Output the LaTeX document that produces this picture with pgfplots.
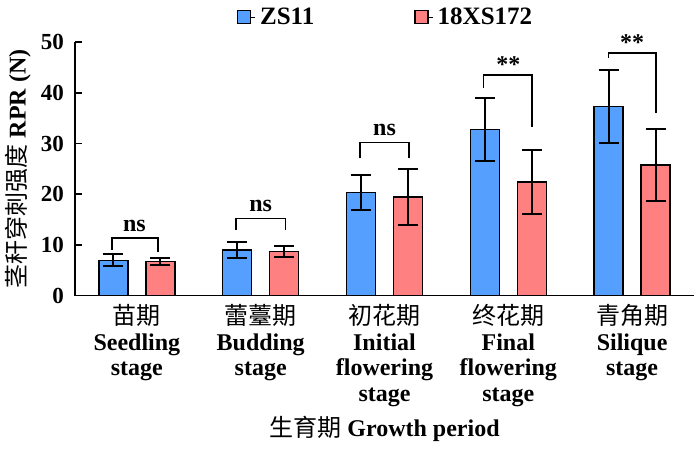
\documentclass[border=0pt]{standalone}
\usepackage{pgfplots}
\pgfplotsset{compat=1.18}
\usepackage{fontspec}
\setmainfont{Liberation Serif}[BoldFont={Liberation Serif Bold}]
\newfontfamily\cjk{Noto Sans CJK SC}
\definecolor{cblue}{HTML}{559FFF}
\definecolor{cred}{HTML}{FF8080}
\newcommand{\zh}[1]{{\cjk\mdseries #1}}
\begin{document}
\begin{tikzpicture}
\useasboundingbox (-37.5pt,-77.25pt) rectangle (312.5pt,147.75pt);
\begin{axis}[
  at={(0,0)}, anchor=south west,
  width=309.5pt, height=126.6pt, scale only axis,
  xmin=-0.5, xmax=4.5, ymin=0, ymax=50,
  axis lines*=left,
  axis line style={line width=0.9pt, black},
  ybar, bar width=14.5pt,
  xtick=\empty,
  minor xtick={0.5,1.5,2.5,3.5},
  minor tick length=2.5pt,
  extra x ticks={0,1,2,3,4},
  extra x tick labels={
    \zh{苗期}\\Seedling\\stage,
    \zh{蕾薹期}\\Budding\\stage,
    \zh{初花期}\\Initial\\flowering\\stage,
    \zh{终花期}\\Final\\flowering\\stage,
    \zh{青角期}\\Silique\\stage},
  extra x tick style={major tick length=0pt,
    tick label style={align=center, anchor=north, yshift=-1pt,
      font=\bfseries\fontsize{12}{12.75}\selectfont}},
  ytick={0,10,20,30,40,50},
  major tick length=3.5pt,
  tick style={line width=0.9pt, black},
  yticklabel style={font=\bfseries\fontsize{11.5}{12}\selectfont, xshift=-2pt},
  /pgf/number format/assume math mode=true,
  ylabel={\zh{茎秆穿刺强度} RPR (N)},
  ylabel style={at={([xshift=-28.5pt]axis description cs:0,0.5)}, anchor=center,
    font=\bfseries\fontsize{12}{12}\selectfont},
  xlabel={\zh{生育期} Growth period},
  xlabel style={at={([yshift=-70.25pt]axis description cs:0.5,0)}, anchor=base,
    font=\bfseries\fontsize{12}{12}\selectfont},
  legend style={at={([yshift=12.5pt,xshift=1pt]axis description cs:0.5,1)}, anchor=center,
    draw=none, fill=none, legend columns=2,
    font=\bfseries\fontsize{12.5}{12.5}\selectfont,
    /tikz/every even column/.append style={column sep=48pt}},
  legend image code/.code={\draw[#1, line width=0.6pt] (0pt,-3.25pt) rectangle (6.5pt,3.25pt);
    \path (6.5pt,0pt) -- (9pt,0pt);},
  clip=false,
]
\addplot[fill=cblue, draw=black, line width=0.75pt, bar shift=-11.75pt,
  error bars/.cd, y dir=both, y explicit,
  error bar style={line width=1pt, black},
  error mark options={rotate=90, mark size=5pt, line width=1pt, black}]
  coordinates {(0,6.95) +- (0,1.2) (1,9.0) +- (0,1.5) (2,20.3) +- (0,3.5) (3,32.8) +- (0,6.2) (4,37.3) +- (0,7.2)};
\addplot[fill=cred, draw=black, line width=0.75pt, bar shift=11.75pt,
  error bars/.cd, y dir=both, y explicit,
  error bar style={line width=1pt, black},
  error mark options={rotate=90, mark size=5pt, line width=1pt, black}]
  coordinates {(0,6.7) +- (0,0.75) (1,8.7) +- (0,1.0) (2,19.5) +- (0,5.5) (3,22.4) +- (0,6.4) (4,25.8) +- (0,7.1)};
\legend{ZS11,18XS172}
% significance brackets
\draw[line width=0.9pt] (axis cs:-0.2,9.0) -- (axis cs:-0.2,11.3) -- (axis cs:0.17,11.3) -- (axis cs:0.17,8.6);
\node[anchor=base, font=\bfseries\fontsize{12}{12}\selectfont] at ([yshift=3.3pt]axis cs:-0.02,11.3) {ns};
\draw[line width=0.9pt] (axis cs:0.8,12.9) -- (axis cs:0.8,15.2) -- (axis cs:1.2,15.2) -- (axis cs:1.2,12.9);
\node[anchor=base, font=\bfseries\fontsize{12}{12}\selectfont] at ([yshift=3.3pt]axis cs:1.0,15.2) {ns};
\draw[line width=0.9pt] (axis cs:1.8,27.1) -- (axis cs:1.8,30.2) -- (axis cs:2.2,30.2) -- (axis cs:2.2,27.1);
\node[anchor=base, font=\bfseries\fontsize{12}{12}\selectfont] at ([yshift=3.3pt]axis cs:2.0,30.2) {ns};
\draw[line width=0.9pt] (axis cs:2.8,41.0) -- (axis cs:2.8,43.6) -- (axis cs:3.19,43.6) -- (axis cs:3.19,33.2);
\node[anchor=base, font=\bfseries\fontsize{12}{12}\selectfont] at ([yshift=1pt]axis cs:3.0,43.6) {**};
\draw[line width=0.9pt] (axis cs:3.81,46.9) -- (axis cs:3.81,47.9) -- (axis cs:4.19,47.9) -- (axis cs:4.19,36.1);
\node[anchor=base, font=\bfseries\fontsize{12}{12}\selectfont] at ([yshift=1pt]axis cs:4.0,47.9) {**};
\end{axis}
\end{tikzpicture}
\end{document}
